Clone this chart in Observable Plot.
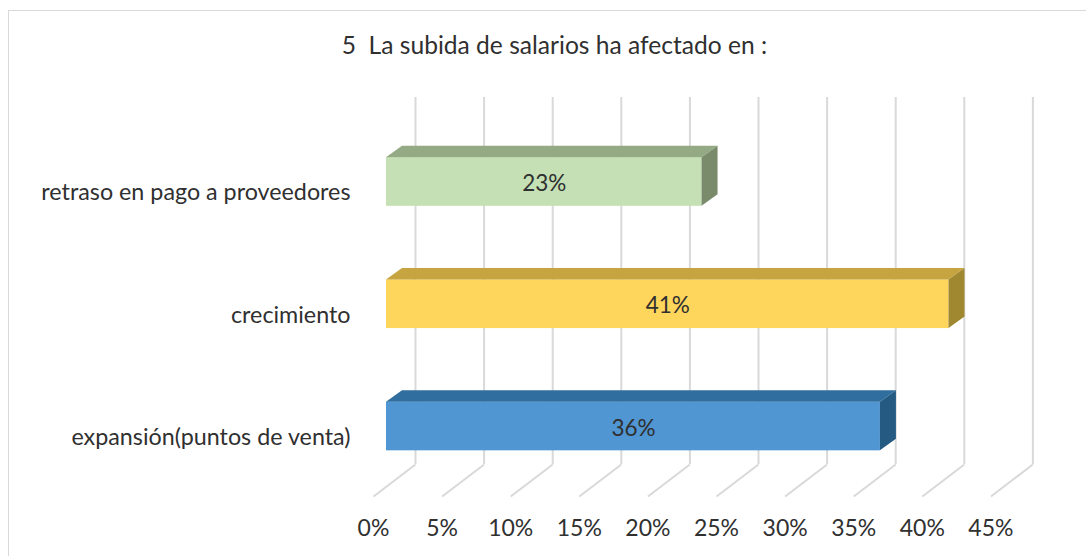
<!DOCTYPE html>
<html>
<head>
<meta charset="utf-8">
<script src="https://cdn.jsdelivr.net/npm/d3@7"></script>
<script src="https://cdn.jsdelivr.net/npm/@observablehq/plot@0.6"></script>
<style>
  html, body { margin: 0; padding: 0; background: #fff; overflow: hidden; }
  #wrap { position: relative; width: 1086px; height: 556px; }
  #border { position: absolute; left: 8px; top: 10px; width: 1200px; height: 700px;
            border-left: 1.5px solid #d9d9d9; border-top: 1.5px solid #d9d9d9; }
  #chart { position: absolute; left: 0; top: 0; }
  svg text { white-space: pre; }
</style>
</head>
<body>
<div id="wrap"><div id="border"></div><div id="chart"></div></div>
<script>
// ---- data ----
const title = "5  La subida de salarios ha afectado en :";
const categories = ["retraso en pago a proveedores", "crecimiento", "expansión(puntos de venta)"];
const values = [23, 41, 36];
const valueLabels = ["23%", "41%", "36%"];
const tickValues = [0, 5, 10, 15, 20, 25, 30, 35, 40, 45];
const tickLabels = ["0%", "5%", "10%", "15%", "20%", "25%", "30%", "35%", "40%", "45%"];
const frontColors = ["#c4e0b4", "#ffd65c", "#4f96d2"];
const topColors = ["#93aa85", "#c6a440", "#2f6e9e"];
const sideColors = ["#798b6b", "#a08830", "#255b83"];

// ---- geometry (3D look) ----
const pxPerUnit = 13.72;
const yStep = 122.25;
const half = 0.199;                 // half bar thickness (category units)
const depthX = 16 / pxPerUnit;      // bar depth in x units
const depthY = 11.5 / yStep;        // bar depth in y units
const wallDx = 29;                  // px offset of back wall
const frontDx = -13;                // px offset of floor front edge
const wallTop = (97 - 181.5) / yStep;
const wallBottom = (464 - 181.5) / yStep;
const floorFront = (496 - 181.5) / yStep;
const tickLabelY = (528 - 181.5) / yStep;

const bars = categories.map((c, i) => ({c, i, v: values[i], label: valueLabels[i]}));
const ticks = tickValues.map((t, k) => ({t, label: tickLabels[k]}));

const textColor = "#303030";
const marks = [];
// back wall gridlines
marks.push(Plot.ruleX(ticks, {x: "t", y1: wallTop, y2: wallBottom, dx: wallDx, stroke: "#d9d9d9", strokeWidth: 2}));
// floor diagonal gridlines
marks.push(Plot.link(ticks, {
  x1: d => d.t + wallDx / pxPerUnit, y1: wallBottom,
  x2: d => d.t + frontDx / pxPerUnit, y2: floorFront,
  stroke: "#d9d9d9", strokeWidth: 2
}));
// bars
bars.forEach((b, i) => {
  marks.push(Plot.rect([b], {x1: 0, x2: "v", y1: d => d.i - half, y2: d => d.i + half, fill: frontColors[i], inset: 0}));
  const topFace = [
    {y: b.i - half, x1: 0, x2: b.v},
    {y: b.i - half - depthY, x1: depthX, x2: b.v + depthX}
  ];
  marks.push(Plot.areaX(topFace, {y: "y", x1: "x1", x2: "x2", fill: topColors[i], curve: "linear"}));
  const sideFace = [
    {x: b.v, y1: b.i + half, y2: b.i - half},
    {x: b.v + depthX, y1: b.i + half - depthY, y2: b.i - half - depthY}
  ];
  marks.push(Plot.areaY(sideFace, {x: "x", y1: "y1", y2: "y2", fill: sideColors[i], curve: "linear"}));
});
// value labels
marks.push(Plot.text(bars, {x: d => d.v / 2, y: "i", text: "label", dy: 2, fontSize: 22.5, fill: textColor, lineAnchor: "middle"}));
// category labels
marks.push(Plot.text(bars, {x: 0, y: "i", text: "c", dx: -36, dy: 11, textAnchor: "end", fontSize: 23.3, fill: textColor, lineAnchor: "middle"}));
// x tick labels
marks.push(Plot.text(ticks, {x: "t", y: tickLabelY, text: "label", dx: frontDx, fontSize: 23, fill: textColor, lineAnchor: "middle"}));
// title
marks.push(Plot.text([title], {frameAnchor: "top", dx: 11, dy: 46, fontSize: 24.6, fill: textColor, lineAnchor: "middle"}));

const chart = Plot.plot({
  width: 1086,
  height: 556,
  margin: 0,
  x: {domain: [0, 45], range: [386, 386 + 45 * pxPerUnit], axis: null},
  y: {domain: [0, 2], range: [181.5, 181.5 + 2 * yStep], axis: null},
  style: {fontFamily: "Lato, 'Open Sans', sans-serif", background: "transparent", overflow: "visible"},
  marks
});
document.getElementById("chart").appendChild(chart);
</script>
</body>
</html>
